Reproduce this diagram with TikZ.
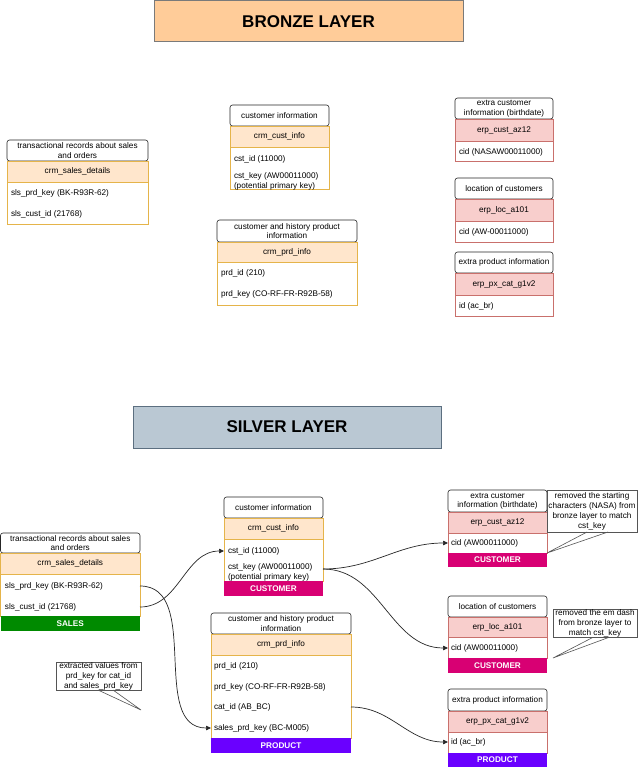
\documentclass[tikz,border=0pt]{standalone}
\usepackage{fontspec}
\setmainfont{Liberation Sans}
\usetikzlibrary{arrows.meta,calc}
\definecolor{bronzefill}{HTML}{FFCC99}
\definecolor{bronzeline}{HTML}{7A7A7A}
\definecolor{silverfill}{HTML}{BAC8D3}
\definecolor{silverline}{HTML}{5C6F80}
\definecolor{ohead}{HTML}{FFE6CC}
\definecolor{oline}{HTML}{E5B44A}
\definecolor{rhead}{HTML}{F8CECC}
\definecolor{rline}{HTML}{C9706C}
\definecolor{salesgreen}{HTML}{008A00}
\definecolor{custpink}{HTML}{D80073}
\definecolor{prodviolet}{HTML}{6A00FF}
\definecolor{notegray}{HTML}{555555}
\newcommand\ft{\fontsize{8.2}{9.4}\selectfont}
\newcommand\rbox[7]{\node[#2, minimum width={#5-#3}, minimum height={#6-#4}] (#1) at ({(#3+#5)/2},{(#4+#6)/2}) {#7};}
\begin{document}
\begin{tikzpicture}[x=1pt,y=-1pt,
 base/.style={inner sep=0pt, outer sep=0pt, font=\ft, align=center},
 layerhead/.style={base, font=\fontsize{17}{20}\selectfont\bfseries, line width=1pt},
 bronzehead/.style={layerhead, fill=bronzefill, draw=bronzeline},
 silverhead/.style={layerhead, fill=silverfill, draw=silverline},
 titlebox/.style={base, draw=black!85, fill=white, rounded corners=2.5pt, line width=0.6pt},
 ohdr/.style={base, fill=ohead, draw=oline, line width=0.6pt},
 obody/.style={base, fill=white, draw=oline, line width=0.6pt},
 rhdr/.style={base, fill=rhead, draw=rline, line width=0.6pt},
 rbody/.style={base, fill=white, draw=rline, line width=0.6pt},
 band/.style={base, font=\ft\bfseries, text=white},
 salesband/.style={band, fill=salesgreen},
 custband/.style={band, fill=custpink},
 prodband/.style={band, fill=prodviolet},
 rowtxt/.style={inner sep=0pt, outer sep=0pt, font=\ft, anchor=west, align=left},
 notebox/.style={base, draw=notegray, fill=white, line width=0.6pt, font=\fontsize{8.2}{10}\selectfont},
 pointer/.style={draw=notegray, line width=0.6pt},
 link/.style={draw=black!85, line width=0.7pt, -{Triangle[length=5pt,width=4.5pt]}},
]
\useasboundingbox (0,0) rectangle (638,768);
\fill[white] (0,0) rectangle (638,768);

% ===== BRONZE =====
\rbox{bronze}{bronzehead}{154}{0.5}{463}{42}{BRONZE LAYER}

\rbox{bsT}{titlebox}{7}{140}{148}{161}{transactional records about sales\\and orders}
\rbox{bsH}{ohdr}{7}{161}{148}{182}{crm\_sales\_details}
\rbox{bsB}{obody}{7}{182}{148}{224}{}
\node[rowtxt] (bsR1) at (11,193) {sls\_prd\_key (BK-R93R-62)};
\node[rowtxt] (bsR2) at (11,214) {sls\_cust\_id (21768)};

\rbox{bcT}{titlebox}{230}{105}{329}{126}{customer information}
\rbox{bcH}{ohdr}{230}{126}{329}{147}{crm\_cust\_info}
\rbox{bcB}{obody}{230}{147}{329}{189}{}
\node[rowtxt] (bcR1) at (234,159) {cst\_id (11000)};
\node[rowtxt] (bcR2) at (234,176) {cst\_key (AW00011000)};
\node[rowtxt] (bcR3) at (234,186) {(potential primary key)};

\rbox{bpT}{titlebox}{217}{220}{357}{242}{customer and history product\\information}
\rbox{bpH}{ohdr}{217}{242}{357}{262}{crm\_prd\_info}
\rbox{bpB}{obody}{217}{262}{357}{305}{}
\node[rowtxt] (bpR1) at (221,273) {prd\_id (210)};
\node[rowtxt] (bpR2) at (221,294) {prd\_key (CO-RF-FR-R92B-58)};

\rbox{beT}{titlebox}{455}{98}{553}{119}{extra customer\\information (birthdate)}
\rbox{beH}{rhdr}{455}{119}{553}{141}{erp\_cust\_az12}
\rbox{beB}{rbody}{455}{141}{553}{161}{}
\node[rowtxt] (beR1) at (459,152) {cid (NASAW00011000)};

\rbox{blT}{titlebox}{455}{178}{553}{199}{location of customers}
\rbox{blH}{rhdr}{455}{199}{553}{221}{erp\_loc\_a101}
\rbox{blB}{rbody}{455}{221}{553}{242}{}
\node[rowtxt] (blR1) at (459,232) {cid (AW-00011000)};

\rbox{bxT}{titlebox}{455}{252}{553}{273}{extra product information}
\rbox{bxH}{rhdr}{455}{273}{553}{295}{erp\_px\_cat\_g1v2}
\rbox{bxB}{rbody}{455}{295}{553}{316}{}
\node[rowtxt] (bxR1) at (459,306) {id (ac\_br)};

% ===== SILVER =====
\rbox{silver}{silverhead}{133}{406}{441}{448}{SILVER LAYER}

\rbox{ssT}{titlebox}{0.5}{533}{140}{553}{transactional records about sales\\and orders}
\rbox{ssH}{ohdr}{0.5}{553}{140}{574}{crm\_sales\_details}
\rbox{ssB}{obody}{0.5}{574}{140}{616}{}
\node[rowtxt] (ssR1) at (5,586) {sls\_prd\_key (BK-R93R-62)};
\node[rowtxt] (ssR2) at (5,607) {sls\_cust\_id (21768)};
\rbox{ssS}{salesband}{0.5}{616}{140}{631}{SALES}

\rbox{scT}{titlebox}{224}{497}{323}{518}{customer information}
\rbox{scH}{ohdr}{224}{518}{323}{539}{crm\_cust\_info}
\rbox{scB}{obody}{224}{539}{323}{581}{}
\node[rowtxt] (scR1) at (228,551) {cst\_id (11000)};
\node[rowtxt] (scR2) at (228,567) {cst\_key (AW00011000)};
\node[rowtxt] (scR3) at (228,577.5) {(potential primary key)};
\rbox{scS}{custband}{224}{581}{323}{596}{CUSTOMER}

\rbox{spT}{titlebox}{211}{613}{351}{634}{customer and history product\\information}
\rbox{spH}{ohdr}{211}{634}{351}{655}{crm\_prd\_info}
\rbox{spB}{obody}{211}{655}{351}{738}{}
\node[rowtxt] (spR1) at (214,666) {prd\_id (210)};
\node[rowtxt] (spR2) at (214,687) {prd\_key (CO-RF-FR-R92B-58)};
\node[rowtxt] (spR3) at (214,707) {cat\_id (AB\_BC)};
\node[rowtxt] (spR4) at (214,728) {sales\_prd\_key (BC-M005)};
\rbox{spS}{prodband}{211}{738}{351}{753}{PRODUCT}

\rbox{seT}{titlebox}{448}{490}{547}{512}{extra customer\\information (birthdate)}
\rbox{seH}{rhdr}{448}{512}{547}{533}{erp\_cust\_az12}
\rbox{seB}{rbody}{448}{533}{547}{553}{}
\node[rowtxt] (seR1) at (451,543) {cid (AW00011000)};
\rbox{seS}{custband}{448}{553}{547}{567}{CUSTOMER}

\rbox{slT}{titlebox}{448}{596}{547}{617}{location of customers}
\rbox{slH}{rhdr}{448}{617}{547}{637}{erp\_loc\_a101}
\rbox{slB}{rbody}{448}{637}{547}{658}{}
\node[rowtxt] (slR1) at (451,648) {cid (AW00011000)};
\rbox{slS}{custband}{448}{658}{547}{673}{CUSTOMER}

\rbox{sxT}{titlebox}{448}{689}{547}{711}{extra product information}
\rbox{sxH}{rhdr}{448}{711}{547}{732}{erp\_px\_cat\_g1v2}
\rbox{sxB}{rbody}{448}{732}{547}{753}{}
\node[rowtxt] (sxR1) at (451,742) {id (ac\_br)};
\rbox{sxS}{prodband}{448}{753}{547}{767}{PRODUCT}

% ===== NOTES =====
\rbox{nA}{notebox}{547}{490}{637}{532}{removed the starting\\characters (NASA) from\\bronze layer to match\\cst\_key}
\coordinate (tipA) at (547,553);
\draw[pointer] ([xshift=40pt]nA.south west) -- (tipA) -- ([xshift=61pt]nA.south west);

\rbox{nB}{notebox}{553}{610}{637}{637}{removed the em dash\\from bronze layer to\\match cst\_key}
\coordinate (tipB) at (553,658);
\draw[pointer] ([xshift=40pt]nB.south west) -- (tipB) -- ([xshift=56pt]nB.south west);

\rbox{nC}{notebox}{56}{662}{141}{690}{extracted values from\\prd\_key for cat\_id\\and sales\_prd\_key}
\coordinate (tipC) at (141,710);
\draw[pointer] ([xshift=42pt]nC.south west) -- (tipC) -- ([xshift=57pt]nC.south west);

% ===== LINKS =====
\coordinate (cstout) at ($(scB.east |- scR2)+(0,2)$);
\draw[link] (ssB.east |- ssR2) to[out=0,in=180] (scB.west |- scR1);
\draw[link] (ssB.east |- ssR1) to[out=0,in=180] (spB.west |- spR4);
\draw[link] (cstout) to[out=0,in=180] (seB.west |- seR1);
\draw[link] (cstout) to[out=0,in=180] (slB.west |- slR1);
\draw[link] (spB.east |- spR3) to[out=0,in=180] (sxB.west |- sxR1);
\end{tikzpicture}
\end{document}
